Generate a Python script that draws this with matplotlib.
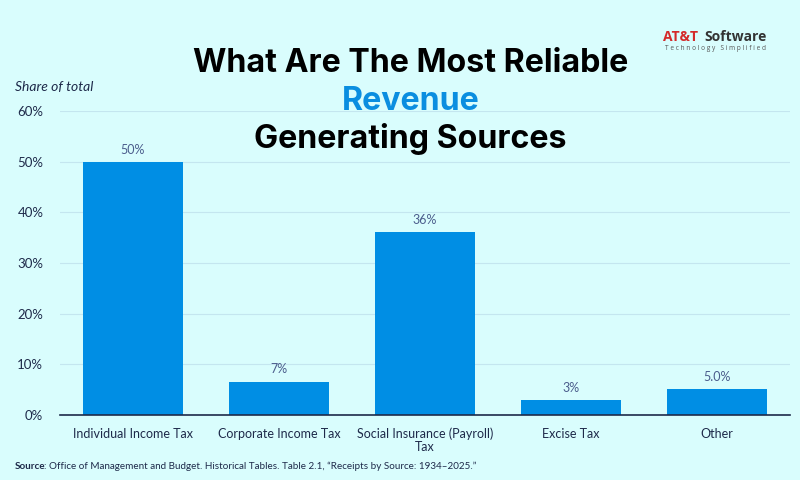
import numpy as np
import matplotlib.pyplot as plt

# data
categories = ["Individual Income Tax", "Corporate Income Tax",
              "Social Insurance (Payroll)\nTax", "Excise Tax", "Other"]
shares = [50.0, 6.6, 36.1, 2.9, 5.1]
value_labels = ["50%", "7%", "36%", "3%", "5.0%"]
y_ticks = [0, 10, 20, 30, 40, 50, 60]

bg = "#d9fdfd"
bar_color = "#008ee4"
navy = "#1e2a4a"
label_color = "#4b5d8c"

fig = plt.figure(figsize=(8, 4.8), dpi=100, facecolor=bg)
ax = fig.add_axes([0.075, 0.1354, 0.9125, 0.6333], facecolor=bg)

x = np.arange(len(categories))
bars = ax.bar(x, shares, width=0.68, color=bar_color, zorder=3)
for b, lab in zip(bars, value_labels):
    ax.text(b.get_x() + b.get_width() / 2, b.get_height() + 1.2, lab,
            ha="center", va="bottom", fontsize=9, color=label_color,
            family="Lato")

ax.set_xlim(-0.5, len(categories) - 0.5)
ax.set_ylim(0, 60)
ax.set_yticks(y_ticks)
ax.set_yticklabels([f"{v}%" for v in y_ticks], fontsize=9.5, color=navy,
                   family="Lato")
ax.set_xticks(x)
ax.set_xticklabels(categories, fontsize=9, color=navy, family="Lato",
                   linespacing=1.1)
ax.tick_params(axis="both", length=0, pad=9)
ax.tick_params(axis="y", pad=12)
ax.grid(axis="y", color="#c4e6ef", linewidth=0.8, zorder=0)
for s in ["top", "right", "left"]:
    ax.spines[s].set_visible(False)
ax.spines["bottom"].set_color(navy)
ax.spines["bottom"].set_linewidth(1.2)
ax.spines["bottom"].set_zorder(4)

# title block
tx = 0.513
fig.text(tx, 0.868, "What Are The Most Reliable", ha="center", va="center",
         fontsize=23.2, fontweight="bold", color="black", family="Inter")
fig.text(tx, 0.788, "Revenue", ha="center", va="center",
         fontsize=23.2, fontweight="bold", color="#0a8ee0", family="Inter")
fig.text(tx, 0.710, "Generating Sources", ha="center", va="center",
         fontsize=23.2, fontweight="bold", color="black", family="Inter")

fig.text(0.019, 0.819, "Share of total", ha="left", va="center",
         fontsize=10, style="italic", color=navy, family="Lato")

# logo
fig.text(0.829, 0.922, "AT&T", ha="left", va="center", fontsize=10,
         fontweight="bold", color="#d42a2a", family="Open Sans")
fig.text(0.881, 0.922, "Software", ha="left", va="center", fontsize=10,
         fontweight="bold", color="#333333", family="Open Sans")
fig.text(0.831, 0.899, "T e c h n o l o g y   S i m p l i f i e d",
         ha="left", va="center", fontsize=4.7, color="#555555",
         family="Open Sans")

# source line
src_bold = fig.text(0.019, 0.029, "Source", ha="left", va="center",
                    fontsize=7.1, fontweight="bold", color=navy, family="Lato")
fig.canvas.draw()
bb = src_bold.get_window_extent().transformed(fig.transFigure.inverted())
fig.text(bb.x1 - 0.002, 0.029,
         ": Office of Management and Budget. Historical Tables. Table 2.1, "
         "\u201cReceipts by Source: 1934\u20132025.\u201d",
         ha="left", va="center", fontsize=7.1, color=navy, family="Lato")

fig.savefig("out.png", dpi=100, facecolor=bg)
